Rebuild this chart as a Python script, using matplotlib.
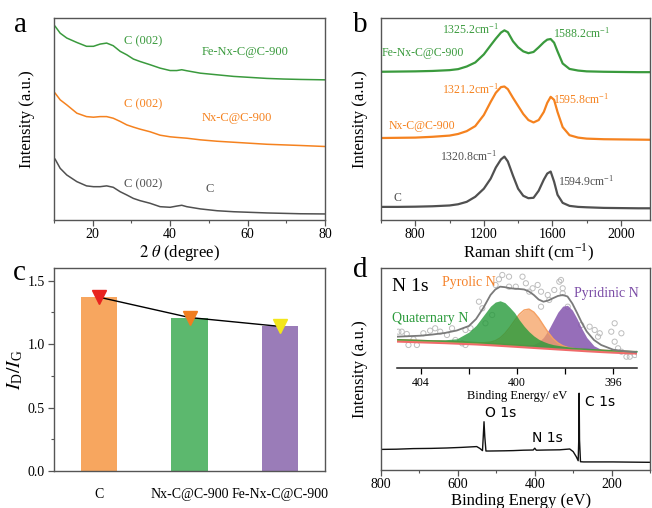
import matplotlib
matplotlib.use("Agg")
import matplotlib.pyplot as plt
from matplotlib.ticker import MultipleLocator

plt.rcParams['font.family'] = ['Liberation Serif', 'DejaVu Serif']
plt.rcParams['mathtext.fontset'] = 'stix'

GREEN  = '#3a9a3d'
ORANGE = '#f5821f'
GRAY   = '#505050'
SPINE  = '#555555'

# ---- (a) XRD ----
xrd_2theta = [10.3, 11.6, 13.3, 15.9, 18.4, 20.2, 21.9, 23.6, 25.3, 27.1, 28.8, 30.5, 32.2, 34.8,
              37.4, 40.0, 41.7, 43.0, 44.3, 47.8, 52.1, 56.4, 60.7, 65.0, 69.3, 73.6, 80.0]
xrd_fe = [95.9, 92.5, 90.1, 87.9, 86.0, 86.0, 87.1, 87.6, 86.3, 83.5, 81.8, 79.7, 78.5, 76.9,
          75.2, 74.0, 74.0, 74.4, 73.9, 72.7, 71.9, 71.1, 70.6, 70.1, 69.8, 69.6, 69.4]
xrd_nx = [62.8, 59.5, 57.0, 52.9, 51.2, 50.9, 51.2, 51.2, 50.4, 48.8, 47.1, 46.0, 45.0, 43.7,
          42.0, 41.2, 40.9, 40.7, 40.5, 39.7, 39.0, 38.5, 38.0, 37.5, 37.2, 36.9, 36.4]
xrd_c = [30.1, 25.6, 22.3, 19.0, 16.9, 16.5, 16.5, 16.9, 16.2, 14.0, 12.4, 10.7, 9.6, 8.3,
         6.6, 6.3, 6.9, 7.3, 6.6, 5.5, 4.6, 4.1, 3.8, 3.5, 3.3, 3.1, 3.0]

# ---- (b) Raman ----
raman_shift = [600, 700, 800, 900, 1000, 1050, 1100, 1150, 1200, 1240, 1270, 1300, 1320, 1340, 1370,
               1400, 1430, 1460, 1490, 1520, 1550, 1570, 1590, 1610, 1630, 1660, 1700, 1750, 1800,
               1900, 2000, 2100, 2200]
raman_fe = [73.4, 73.5, 73.6, 73.8, 74.2, 74.7, 76.0, 78.0, 82.0, 86.5, 89.8, 92.8, 93.9, 93.0, 88.5,
            85.5, 83.5, 82.6, 83.2, 85.5, 88.0, 89.3, 89.6, 87.8, 83.5, 77.5, 74.8, 74.0, 73.6,
            73.4, 73.3, 73.2, 73.2]
raman_nx = [40.6, 40.7, 40.8, 41.2, 41.8, 42.6, 44.0, 46.5, 52.0, 58.5, 63.0, 65.8, 66.1, 64.8, 60.5,
            56.5, 52.5, 49.5, 48.3, 49.5, 53.5, 58.0, 61.0, 59.5, 53.5, 46.0, 42.0, 40.8, 40.3,
            40.0, 39.9, 39.8, 39.7]
raman_c = [6.5, 6.5, 6.6, 6.8, 7.2, 7.8, 9.0, 11.5, 15.5, 20.5, 26.0, 30.0, 31.4, 29.0, 22.0,
           15.5, 12.0, 10.8, 11.0, 14.5, 20.0, 23.0, 24.0, 19.0, 12.5, 8.5, 7.0, 6.5, 6.3,
           6.0, 5.9, 5.8, 5.8]

# ---- (c) ID/IG ----
samples = ['C', 'Nx-C@C-900', 'Fe-Nx-C@C-900']
id_ig = [1.37, 1.21, 1.14]
bar_colors = ['#f7a65f', '#5cb86e', '#9a7cb8']
marker_colors = ['#e8241f', '#f07e1f', '#f3e61b']

# ---- (d) XPS survey ----
survey_be = [800, 760, 716, 670, 629, 590, 551, 543, 536, 534, 532, 530, 527, 517, 480, 456, 430,
             404, 400, 396, 370, 335, 309, 300, 292, 287, 285.5, 284.5, 283.5, 281, 273, 240, 197, 150, 100]
survey_int = [10.2, 10.3, 10.6, 10.7, 10.9, 11.2, 11.6, 10.7, 9.6, 16.5, 23.9, 16.5, 9.4, 9.4, 9.5,
              9.6, 9.8, 9.9, 10.8, 9.8, 9.9, 10.0, 10.4, 9.1, 6.6, 4.6, 14.9, 38.0, 14.9, 4.1, 4.0,
              4.0, 4.0, 3.9, 3.8]

# ---- (d) inset N 1s ----
n1s_be = [405, 404.5, 404, 403.5, 403, 402.5, 402, 401.7, 401.4, 401.1, 400.9, 400.7, 400.5, 400.3,
          400.1, 399.9, 399.7, 399.5, 399.3, 399.1, 398.9, 398.7, 398.5, 398.3, 398.1, 397.9, 397.7,
          397.5, 397.3, 397.1, 396.8, 396.5, 396, 395.5, 395]
n1s_bg = [28, 27.6, 27.2, 26.8, 26.4, 25.9, 25.4, 25.1, 24.7, 24.3, 24.0, 23.7, 23.4, 23.1, 22.8,
          22.5, 22.2, 21.9, 21.6, 21.3, 21.0, 20.7, 20.4, 20.1, 19.8, 19.5, 19.2, 18.9, 18.6, 18.3,
          17.9, 17.5, 16.9, 16.4, 16.0]
n1s_quat = [0, 0, 0, 0, 0.3, 1.8, 9, 16, 26, 36, 40.4, 42, 40.4, 36, 31, 24, 18, 13, 9, 6, 4, 2.5,
            1.5, 1.0, 0.6, 0.3, 0, 0, 0, 0, 0, 0, 0, 0, 0]
n1s_pyrol = [0, 0, 0, 0, 0, 0, 0, 0.1, 0.5, 1.6, 3.3, 6.4, 11.2, 17.5, 24.6, 31.3, 35.8, 37, 34.3,
             28.8, 21.7, 14.8, 9, 5, 2.5, 1.1, 0.5, 0.2, 0, 0, 0, 0, 0, 0, 0]
n1s_pyrid = [0, 0, 0, 0, 0, 0, 0, 0, 0, 0, 0, 0, 0, 0, 0, 0, 0, 0.7, 2, 4.7, 9.5, 17, 26.4, 35.7,
             42, 43.2, 38.7, 30.3, 20.6, 12.2, 4.3, 1.1, 0, 0, 0]
n1s_env = [31.3, 31.8, 32.3, 33.5, 35, 37.5, 42, 49, 60, 73, 78.5, 81.3, 80.8, 79.8, 79.3, 79, 78.5,
           76.5, 73, 68.5, 66.3, 67.5, 69.8, 72, 73, 71.5, 64.5, 55, 45, 36.5, 28, 23, 18.3, 16.7, 15.7]
raw_be = [404.93, 404.79, 404.58, 404.51, 404.3, 404.16, 403.89, 403.61, 403.4, 403.19, 402.91, 402.7,
          402.56, 402.28, 402.14, 402.14, 401.93, 401.58, 401.44, 401.31, 401.03, 400.89, 400.75,
          400.61, 400.33, 400.33, 400.05, 399.77, 399.63, 399.49, 399.35, 399.14, 399.0, 399.0,
          398.72, 398.66, 398.45, 398.24, 398.17, 398.1, 398.1, 397.89, 397.33, 396.98, 396.77,
          396.63, 396.56, 396.08, 395.94, 395.94, 395.8, 395.66, 395.66, 395.45, 395.31, 395.1, 394.96]
raw_int = [36.3, 36.3, 34, 23, 28.7, 23, 34.7, 37.3, 39.7, 36.3, 33, 39.7, 28, 24.7, 38, 23, 39.7,
           66.3, 59.7, 44.7, 53, 83, 88.7, 93, 91.3, 81.3, 81.3, 91.3, 84.7, 76.3, 79.7, 83, 76.3,
           61.3, 73, 68, 78, 86.3, 88, 74.7, 79.7, 61.3, 43, 41.3, 38, 31.3, 34.7, 36.3, 44.7, 26.3,
           19.7, 16.3, 34.7, 11.3, 11.3, 13, 14.7]


def style_axes(ax):
    for sp in ax.spines.values():
        sp.set_color(SPINE)
        sp.set_linewidth(1.0)
    ax.tick_params(which='major', direction='out', length=4, width=0.9, color=SPINE, labelsize=10, pad=1.5)
    ax.tick_params(which='minor', direction='out', length=2.5, width=0.8, color=SPINE)


fig = plt.figure(figsize=(6.52, 5.08), dpi=100)

# (a)
ax_a = fig.add_axes([0.0828, 0.5669, 0.4157, 0.3976])
ax_a.plot(xrd_2theta, xrd_fe, color=GREEN, lw=1.1)
ax_a.plot(xrd_2theta, xrd_nx, color=ORANGE, lw=1.1)
ax_a.plot(xrd_2theta, xrd_c, color=GRAY, lw=1.1)
ax_a.set_xlim(10, 80)
ax_a.set_ylim(0, 100)
ax_a.set_yticks([])
ax_a.xaxis.set_major_locator(MultipleLocator(20))
ax_a.xaxis.set_minor_locator(MultipleLocator(10))
style_axes(ax_a)
ax_a.set_xlabel(r'$\mathit{2\ \theta}$ (degree)', fontsize=12)
ax_a.xaxis.set_label_coords(0.465, -0.115)
ax_a.set_ylabel('Intensity (a.u.)', fontsize=12)
ax_a.yaxis.set_label_coords(-0.07, 0.5)
kw = dict(fontsize=9, va='center')
ax_a.text(28.1, 88.4, 'C (002)', color=GREEN, **kw)
ax_a.text(48.2, 83.0, 'Fe-Nx-C@C-900', color=GREEN, **kw)
ax_a.text(28.1, 57.5, 'C (002)', color=ORANGE, **kw)
ax_a.text(48.2, 50.4, 'Nx-C@C-900', color=ORANGE, **kw)
ax_a.text(28.1, 17.7, 'C (002)', color=GRAY, **kw)
ax_a.text(49.1, 15.2, 'C', color=GRAY, **kw)

# (b)
ax_b = fig.add_axes([0.5844, 0.5669, 0.4126, 0.3976])
ax_b.plot(raman_shift, raman_fe, color=GREEN, lw=1.6)
ax_b.plot(raman_shift, raman_nx, color=ORANGE, lw=1.6)
ax_b.plot(raman_shift, raman_c, color=GRAY, lw=1.6)
ax_b.set_xlim(600, 2170)
ax_b.set_ylim(0, 100)
ax_b.set_yticks([])
ax_b.xaxis.set_major_locator(MultipleLocator(400))
ax_b.xaxis.set_minor_locator(MultipleLocator(200))
style_axes(ax_b)
ax_b.set_xlabel(r'Raman shift (cm$^{\mathregular{-1}}$)', fontsize=12)
ax_b.xaxis.set_label_coords(0.55, -0.105)
ax_b.set_ylabel('Intensity (a.u.)', fontsize=12)
ax_b.yaxis.set_label_coords(-0.048, 0.5)
kw = dict(fontsize=8.5, va='center')
ax_b.text(1124, 94.2, r'1325.2cm$^{\mathregular{-1}}$', color=GREEN, ha='center', **kw)
ax_b.text(1606, 92.6, r'1588.2cm$^{\mathregular{-1}}$', color=GREEN, **kw)
ax_b.text(606, 82.6, 'Fe-Nx-C@C-900', color=GREEN, **kw)
ax_b.text(1120, 64.5, r'1321.2cm$^{\mathregular{-1}}$', color=ORANGE, ha='center', **kw)
ax_b.text(1606, 59.5, r'1595.8cm$^{\mathregular{-1}}$', color=ORANGE, **kw)
ax_b.text(645, 46.6, 'Nx-C@C-900', color=ORANGE, **kw)
ax_b.text(1111, 31.4, r'1320.8cm$^{\mathregular{-1}}$', color=GRAY, ha='center', **kw)
ax_b.text(1635, 19.0, r'1594.9cm$^{\mathregular{-1}}$', color=GRAY, **kw)
ax_b.text(670, 10.7, 'C', color=GRAY, **kw)

# (c)
ax_c = fig.add_axes([0.0828, 0.0728, 0.4157, 0.3996])
pos = list(range(len(samples)))
ax_c.bar(pos, id_ig, width=0.4, color=bar_colors)
ax_c.plot(pos, id_ig, color='black', lw=1.0, zorder=3)
for p, v, mc in zip(pos, id_ig, marker_colors):
    ax_c.plot(p, v, marker='v', ms=9.5, color=mc, mec=mc, zorder=4)
ax_c.set_xlim(-0.5, 2.5)
ax_c.set_ylim(0, 1.6)
ax_c.set_xticks(pos)
ax_c.set_xticklabels(samples)
ax_c.yaxis.set_major_locator(MultipleLocator(0.5))
ax_c.yaxis.set_minor_locator(MultipleLocator(0.25))
style_axes(ax_c)
ax_c.tick_params(axis='y', pad=2.5)
ax_c.tick_params(axis='x', length=0, pad=12, labelsize=10)
ax_c.set_ylabel(r'$I_{\mathregular{D}}/I_{\mathregular{G}}$', fontsize=14)
ax_c.yaxis.set_label_coords(-0.107, 0.5)

# (d)
ax_d = fig.add_axes([0.5844, 0.0748, 0.4126, 0.3976])
ax_d.plot(survey_be, survey_int, color='#111111', lw=1.0)
ax_d.set_xlim(800, 100)
ax_d.set_ylim(0, 100)
ax_d.set_yticks([])
ax_d.xaxis.set_major_locator(MultipleLocator(200))
ax_d.xaxis.set_minor_locator(MultipleLocator(100))
style_axes(ax_d)
ax_d.set_xlabel('Binding Energy (eV)', fontsize=12)
ax_d.xaxis.set_label_coords(0.52, -0.115)
ax_d.set_ylabel('Intensity (a.u.)', fontsize=12)
ax_d.yaxis.set_label_coords(-0.048, 0.5)
kw = dict(fontsize=10, va='center', family='DejaVu Sans')
ax_d.text(530, 28.2, 'O 1s', **kw)
ax_d.text(408, 15.8, 'N 1s', **kw)
ax_d.text(268, 33.8, 'C 1s', **kw)

# (d) inset
ax_i = fig.add_axes([0.6084, 0.2756, 0.369, 0.1969])
ax_i.patch.set_alpha(0)
ax_i.plot(n1s_be, [b - 0.8 for b in n1s_bg], color='#f06a6a', lw=2.6, zorder=1)
ax_i.fill_between(n1s_be, n1s_bg, [b + p for b, p in zip(n1s_bg, n1s_pyrid)],
                  color='#8455ad', alpha=0.85, lw=0, zorder=2)
ax_i.fill_between(n1s_be, n1s_bg, [b + p for b, p in zip(n1s_bg, n1s_pyrol)],
                  color='#f5a062', alpha=0.75, lw=0, zorder=3)
ax_i.plot(n1s_be, [b + p for b, p in zip(n1s_bg, n1s_pyrol)], color='#f5a062', lw=1.0, zorder=3)
ax_i.fill_between(n1s_be, n1s_bg, [b + p + 1.5 for b, p in zip(n1s_bg, n1s_quat)],
                  color='#259a3a', alpha=0.8, lw=0, zorder=4)
ax_i.plot(n1s_be, n1s_env, color='#7a7a7a', lw=1.3, zorder=5)
ax_i.scatter(raw_be, raw_int, s=14, facecolors='none', edgecolors='#bdbdbd', linewidths=0.7, zorder=0)
ax_i.set_xlim(405, 395)
ax_i.set_ylim(0, 100)
ax_i.set_yticks([])
for k in ['top', 'left', 'right']:
    ax_i.spines[k].set_visible(False)
ax_i.spines['bottom'].set_color('#222222')
ax_i.spines['bottom'].set_linewidth(1.1)
ax_i.set_xticks([404, 402, 400, 398, 396])
ax_i.set_xticklabels(['404', '', '400', '', '396'])
ax_i.tick_params(direction='out', length=4, width=0.9, labelsize=8.5, pad=2.5)
ax_i.set_xlabel('Binding Energy/ eV', fontsize=9, labelpad=1)
ax_i.text(405.2, 81.3, 'N 1s', fontsize=14, va='center', color='black')
ax_i.text(403.12, 85.7, 'Pyrolic N', fontsize=10, va='center', color='#f5822a')
ax_i.text(397.61, 74.7, 'Pyridinic N', fontsize=10, va='center', color='#7b4ca6')
ax_i.text(405.2, 49.7, 'Quaternary N', fontsize=10, va='center', color='#2a9a3a')

# panel letters
for lbl, x, y in [('a', 0.021, 0.937), ('b', 0.541, 0.937), ('c', 0.020, 0.449), ('d', 0.541, 0.455)]:
    fig.text(x, y, lbl, fontsize=21, va='baseline')

fig.savefig('out.png', dpi=100)
